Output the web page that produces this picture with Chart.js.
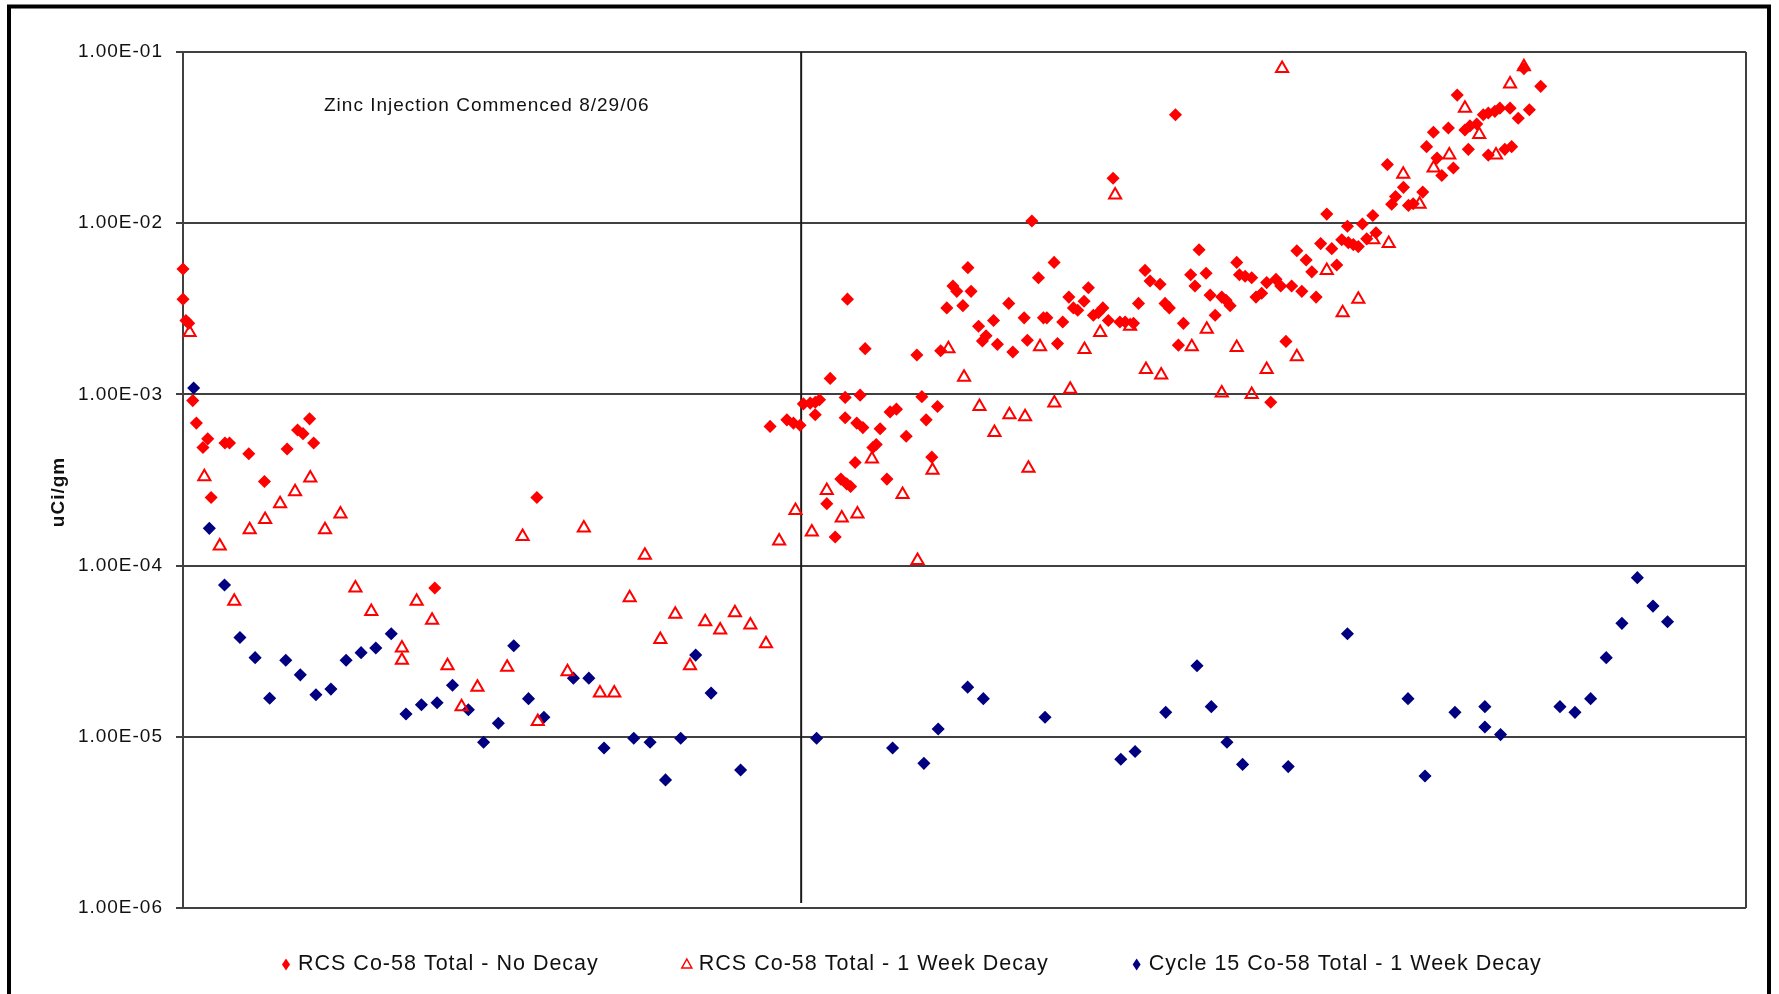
<!DOCTYPE html>
<html>
<head>
<meta charset="utf-8">
<script src="https://cdn.jsdelivr.net/npm/chart.js@4.4.0/dist/chart.umd.min.js"></script>
<style>
    html, body { margin: 0; padding: 0; background: #fff; }
    #wrap { width: 1779px; height: 994px; }
</style>
</head>
<body>
<div id="wrap"><canvas id="co58_chart" width="1779" height="994"></canvas></div>
<script>
// days from first sample (x) / uCi/gm (y)
let nd_x = [0, 0, 1.3, 2.5, 4.3, 5.9, 8.8, 10.9, 12.4, 18.5,
    20.5, 29, 35.9, 45.9, 50.5, 52.9, 55.8, 57.6, 111, 156,
    258.8, 266.2, 269.1, 272, 273.5, 276.5, 278.7, 280.6, 278.7, 283.8,
    285.3, 287.5, 290, 291.9, 291.9, 292.6, 292.9, 294.3, 296.3, 297,
    298.5, 299.7, 300.7, 304.1, 305.6, 307.3, 310.3, 311.7, 314.5, 318.8,
    323.5, 325.7, 327.6, 330.1, 332.6, 334, 336.7, 339.4, 341.1, 343.8,
    346, 347.4, 350.7, 352.4, 354, 357.3, 359, 364, 365.8, 370.8,
    372.2, 374.2, 377.1, 379.3, 380.8, 384, 385.5, 387.8, 390.5, 392.5,
    394.4, 397.2, 399.1, 401.3, 403.5, 405.5, 407.9, 410, 413, 415.3,
    419, 421.2, 424.1, 426.3, 430.7, 432.9, 434.8, 437.5, 438.8, 441,
    444.2, 446.1, 447.9, 451, 452.8, 455, 457.9, 459.8, 461.6, 464.5,
    465.7, 468.2, 471.1, 473, 475.5, 477.7, 479.5, 481.8, 483.9, 486.2,
    488.7, 491, 493.2, 495.1, 497.6, 499.5, 501.5, 504.2, 506.4, 508.6,
    510.8, 513.3, 513.7, 515.9, 518.1, 519.9, 521.8, 524.5, 525.9, 530.9,
    532.8, 534.5, 538, 540.2, 542.3, 546.5, 548.2, 551.2, 552.8, 554.9,
    557.8, 560, 561.7, 565.1, 566.6, 567.3, 570.3, 573.2, 575.4, 575.4,
    578.3, 580.5, 582.7, 585, 585.7, 588.6, 591.1, 593.5, 598.5];
let nd_y = [3.6e-3, 5.4e-3, 2.7e-3, 2.6e-3, 9.2e-4, 6.8e-4, 4.9e-4, 5.5e-4, 2.5e-4, 5.2e-4,
    5.2e-4, 4.5e-4, 3.1e-4, 4.8e-4, 6.2e-4, 5.9e-4, 7.2e-4, 5.2e-4, 7.4e-5, 2.5e-4,
    6.5e-4, 7.1e-4, 6.8e-4, 6.6e-4, 8.8e-4, 8.9e-4, 9.0e-4, 9.3e-4, 7.6e-4, 2.3e-4,
    1.24e-3, 1.47e-4, 3.2e-4, 9.6e-4, 7.3e-4, 3.0e-4, 3.6e-3, 2.9e-4, 4.0e-4, 6.8e-4,
    9.9e-4, 6.4e-4, 1.85e-3, 4.9e-4, 5.1e-4, 6.3e-4, 3.2e-4, 7.9e-4, 8.2e-4, 5.7e-4,
    1.7e-3, 9.7e-4, 7.1e-4, 4.3e-4, 8.5e-4, 1.8e-3, 3.2e-3, 4.3e-3, 4.0e-3, 3.3e-3,
    5.5e-3, 4.0e-3, 2.5e-3, 2.05e-3, 2.2e-3, 2.7e-3, 1.96e-3, 3.4e-3, 1.77e-3, 2.8e-3,
    2.07e-3, 1.03e-2, 4.8e-3, 2.8e-3, 2.8e-3, 5.9e-3, 1.98e-3, 2.65e-3, 3.7e-3, 3.2e-3,
    3.1e-3, 3.5e-3, 4.2e-3, 2.9e-3, 3.0e-3, 3.2e-3, 2.7e-3, 1.83e-2, 2.65e-3, 2.65e-3,
    2.6e-3, 3.4e-3, 5.3e-3, 4.6e-3, 4.4e-3, 3.4e-3, 3.2e-3, 4.3e-2, 1.94e-3, 2.6e-3,
    5.0e-3, 4.3e-3, 7.0e-3, 5.1e-3, 3.8e-3, 2.9e-3, 3.7e-3, 3.55e-3, 3.3e-3, 5.9e-3,
    5.0e-3, 4.9e-3, 4.8e-3, 3.7e-3, 3.9e-3, 4.5e-3, 9.0e-4, 4.7e-3, 4.3e-3, 2.04e-3,
    4.3e-3, 6.9e-3, 4.0e-3, 6.1e-3, 5.2e-3, 3.7e-3, 7.6e-3, 1.13e-2, 7.1e-3, 5.7e-3,
    8.0e-3, 9.6e-3, 7.7e-3, 7.5e-3, 7.3e-3, 9.9e-3, 8.1e-3, 1.11e-2, 8.8e-3, 2.2e-2,
    1.29e-2, 1.43e-2, 1.62e-2, 1.27e-2, 1.3e-2, 1.52e-2, 2.8e-2, 3.4e-2, 2.4e-2, 1.9e-2,
    3.6e-2, 2.1e-2, 5.6e-2, 3.5e-2, 2.7e-2, 3.7e-2, 3.8e-2, 4.3e-2, 4.4e-2, 2.5e-2,
    4.5e-2, 4.7e-2, 2.7e-2, 4.7e-2, 2.8e-2, 4.1e-2, 8.0e-2, 4.6e-2, 6.3e-2];

let wk_x = [2.9, 9.4, 16.2, 22.6, 29.4, 36.2, 42.8, 49.4, 56.1, 62.6,
    69.4, 76, 83, 96.5, 96.5, 103, 109.8, 116.6, 122.8, 129.8,
    142.9, 149.7, 156.4, 169.5, 176.7, 183.8, 190.1, 196.9, 203.6, 210.4,
    217, 223.5, 230.2, 236.8, 243.3, 250.1, 257, 262.8, 270, 277.2,
    283.8, 290.4, 297.3, 303.7, 317.2, 323.8, 330.4, 337.4, 344.3, 351.1,
    357.7, 364.3, 371.2, 372.7, 377.8, 384.1, 391.1, 397.4, 404.3, 410.9,
    417.5, 424.5, 431.2, 444.7, 451.3, 457.9, 464.5, 471.1, 477.7, 484.5,
    491, 504.2, 511.2, 518.1, 524.7, 531.5, 537.9, 545.1, 551.3, 558.2,
    565.1, 571.4, 578.8, 585, 591.1];
let wk_y = [2.3e-3, 3.3e-4, 1.3e-4, 6.2e-5, 1.62e-4, 1.86e-4, 2.3e-4, 2.7e-4, 3.25e-4, 1.62e-4,
    2.0e-4, 7.4e-5, 5.4e-5, 3.3e-5, 2.8e-5, 6.2e-5, 4.8e-5, 2.6e-5, 1.5e-5, 1.95e-5,
    2.55e-5, 1.48e-4, 1.23e-5, 2.4e-5, 1.66e-4, 1.8e-5, 1.8e-5, 6.5e-5, 1.15e-4, 3.7e-5,
    5.2e-5, 2.6e-5, 4.7e-5, 4.2e-5, 5.3e-5, 4.5e-5, 3.5e-5, 1.39e-4, 2.1e-4, 1.57e-4,
    2.75e-4, 1.9e-4, 2.0e-4, 4.2e-4, 2.6e-4, 1.07e-4, 3.6e-4, 1.85e-3, 1.26e-3, 8.5e-4,
    6.0e-4, 7.6e-4, 7.4e-4, 3.7e-4, 1.9e-3, 8.9e-4, 1.07e-3, 1.83e-3, 2.3e-3, 1.46e-2,
    2.5e-3, 1.4e-3, 1.3e-3, 1.9e-3, 2.4e-3, 1.02e-3, 1.88e-3, 1.0e-3, 1.4e-3, 8.0e-2,
    1.66e-3, 5.3e-3, 3.0e-3, 3.6e-3, 8.0e-3, 7.6e-3, 1.93e-2, 1.29e-2, 2.1e-2, 2.5e-2,
    4.7e-2, 3.3e-2, 2.5e-2, 6.5e-2, 8.2e-2];

let cyc_x = [4.7, 11.6, 18.3, 25.1, 31.8, 38.2, 45.3, 51.7, 58.6, 65.2,
    71.9, 78.5, 85, 91.8, 98.3, 105.1, 112, 118.8, 125.8, 132.5,
    139, 145.8, 152.3, 159.1, 172.1, 178.9, 185.6, 198.7, 205.9, 212.7,
    219.4, 226, 232.8, 245.8, 279.3, 312.8, 326.6, 332.9, 345.9, 352.8,
    380, 413.4, 419.7, 433.2, 447, 453.3, 460.2, 467.1, 487.2, 513.3,
    540, 547.5, 560.7, 573.9, 573.9, 580.8, 607, 613.6, 620.5, 627.4,
    634.3, 641.1, 648, 654.4];
let cyc_y = [1.09e-3, 1.65e-4, 7.7e-5, 3.8e-5, 2.9e-5, 1.68e-5, 2.8e-5, 2.3e-5, 1.76e-5, 1.9e-5,
    2.8e-5, 3.1e-5, 3.3e-5, 4.0e-5, 1.36e-5, 1.54e-5, 1.58e-5, 2.0e-5, 1.44e-5, 9.3e-6,
    1.2e-5, 3.4e-5, 1.67e-5, 1.3e-5, 2.2e-5, 2.2e-5, 8.6e-6, 9.8e-6, 9.3e-6, 5.6e-6,
    9.8e-6, 3.0e-5, 1.8e-5, 6.4e-6, 9.8e-6, 8.6e-6, 7.0e-6, 1.11e-5, 1.95e-5, 1.67e-5,
    1.3e-5, 7.4e-6, 8.2e-6, 1.39e-5, 2.6e-5, 1.5e-5, 9.3e-6, 6.9e-6, 6.7e-6, 4.0e-5,
    1.67e-5, 5.9e-6, 1.39e-5, 1.5e-5, 1.14e-5, 1.03e-5, 1.5e-5, 1.39e-5, 1.67e-5, 2.9e-5,
    4.6e-5, 8.5e-5, 5.8e-5, 4.7e-5];

let series_names = ['RCS Co-58 Total - No Decay', 'RCS Co-58 Total - 1 Week Decay', 'Cycle 15 Co-58 Total - 1 Week Decay'];
let y_tick_vals = [1e-6, 1e-5, 1e-4, 1e-3, 1e-2, 1e-1];
let y_tick_labels = ['1.00E-06', '1.00E-05', '1.00E-04', '1.00E-03', '1.00E-02', '1.00E-01'];
let y_title = 'uCi/gm';
let zinc_day = 272.5;
let zinc_note = 'Zinc Injection Commenced 8/29/06';

const FONT = '"Liberation Sans", Arial, sans-serif';

function fnPoints(xs, ys) {
    return xs.map((x, i) => ({x: x, y: ys[i]}));
}

// legend marker (small diamond / hollow triangle)
function fnMarker(c, ds, x, y) {
    c.beginPath();
    if (ds.pointStyle === 'triangle') {
        c.moveTo(x, y - 5.5);
        c.lineTo(x + 5, y + 3.5);
        c.lineTo(x - 5, y + 3.5);
        c.closePath();
        c.strokeStyle = ds.borderColor;
        c.lineWidth = 1.5;
        c.stroke();
    } else {
        c.moveTo(x, y - 6);
        c.lineTo(x + 4, y);
        c.lineTo(x, y + 6);
        c.lineTo(x - 4, y);
        c.closePath();
        c.fillStyle = ds.backgroundColor;
        c.fill();
    }
}

let extras = {
    id: 'extras',
    beforeUpdate(chart) {
        chart.ctx.letterSpacing = '1px';
    },
    beforeDraw(chart) {
        let c = chart.ctx;
        c.letterSpacing = '1px';
        c.save();
        c.strokeStyle = '#000';
        c.lineWidth = 4;
        c.strokeRect(9, 6.5, 1760, 1100);
        c.restore();
    },
    beforeDatasetsDraw(chart) {
        let c = chart.ctx, area = chart.chartArea;
        c.save();
        c.strokeStyle = '#404040';
        c.lineWidth = 2;
        c.beginPath();
        c.moveTo(area.right, area.top);
        c.lineTo(area.right, area.bottom);
        c.stroke();
        // zinc injection marker line
        let zx = chart.scales.x.getPixelForValue(zinc_day);
        c.strokeStyle = '#1a1a1a';
        c.beginPath();
        c.moveTo(zx, area.top);
        c.lineTo(zx, area.bottom - 5);
        c.stroke();
        c.restore();
    },
    afterDraw(chart) {
        let c = chart.ctx, area = chart.chartArea;
        c.save();
        c.fillStyle = '#111';
        c.textBaseline = 'middle';
        c.textAlign = 'left';
        c.font = '19px ' + FONT;
        c.fillText(zinc_note, area.left + 141, area.top + 54);

        c.save();
        c.translate(59, (area.top + area.bottom) / 2 + 12);
        c.rotate(-Math.PI / 2);
        c.textAlign = 'center';
        c.font = 'bold 19px ' + FONT;
        c.fillText(y_title, 0, 0);
        c.restore();

        // legend
        c.font = '21.5px ' + FONT;
        let lx = 280, ly = 964.5;
        chart.data.datasets.forEach((ds) => {
            fnMarker(c, ds, lx + 6, ly);
            c.fillStyle = '#111';
            c.fillText(ds.label, lx + 18, ly);
            lx += 18 + c.measureText(ds.label).width + 82;
        });
        c.restore();
    }
};

function fnGenChart() {
    Chart.defaults.font.family = FONT;
    let ctx = document.getElementById('co58_chart');
    let myChart = new Chart(ctx, {
        type: 'scatter',
        data: {
            datasets: [{
                label: series_names[0],
                data: fnPoints(nd_x, nd_y),
                pointStyle: 'rectRot',
                pointRadius: 5.5,
                backgroundColor: '#ff0000',
                borderColor: '#ff0000',
                borderWidth: 1.5,
                clip: false
            }, {
                label: series_names[1],
                data: fnPoints(wk_x, wk_y),
                pointStyle: 'triangle',
                pointRadius: 7,
                backgroundColor: 'rgba(255,255,255,0)',
                borderColor: '#ff0000',
                borderWidth: 2,
                clip: false
            }, {
                label: series_names[2],
                data: fnPoints(cyc_x, cyc_y),
                pointStyle: 'rectRot',
                pointRadius: 5.5,
                backgroundColor: '#000080',
                borderColor: '#000080',
                borderWidth: 1.5,
                clip: false
            }]
        },
        options: {
            responsive: false,
            animation: false,
            events: [],
            layout: {padding: {top: 52, right: 33, bottom: 86, left: 0}},
            plugins: {
                legend: {display: false},
                tooltip: {enabled: false}
            },
            scales: {
                x: {type: 'linear', min: 0, max: 689, display: false},
                y: {
                    type: 'logarithmic',
                    min: 1e-6,
                    max: 1e-1,
                    afterBuildTicks: (s) => { s.ticks = y_tick_vals.map((v) => ({value: v})); },
                    afterFit: (s) => { s.width = 183; },
                    ticks: {
                        callback: (v, i) => y_tick_labels[i],
                        font: {size: 19},
                        color: '#111',
                        padding: 13,
                        autoSkip: false
                    },
                    grid: {color: '#404040', lineWidth: 2, tickLength: 7, drawTicks: true},
                    border: {color: '#404040', width: 2}
                }
            }
        },
        plugins: [extras]
    });
}
fnGenChart();
</script>
</body>
</html>
